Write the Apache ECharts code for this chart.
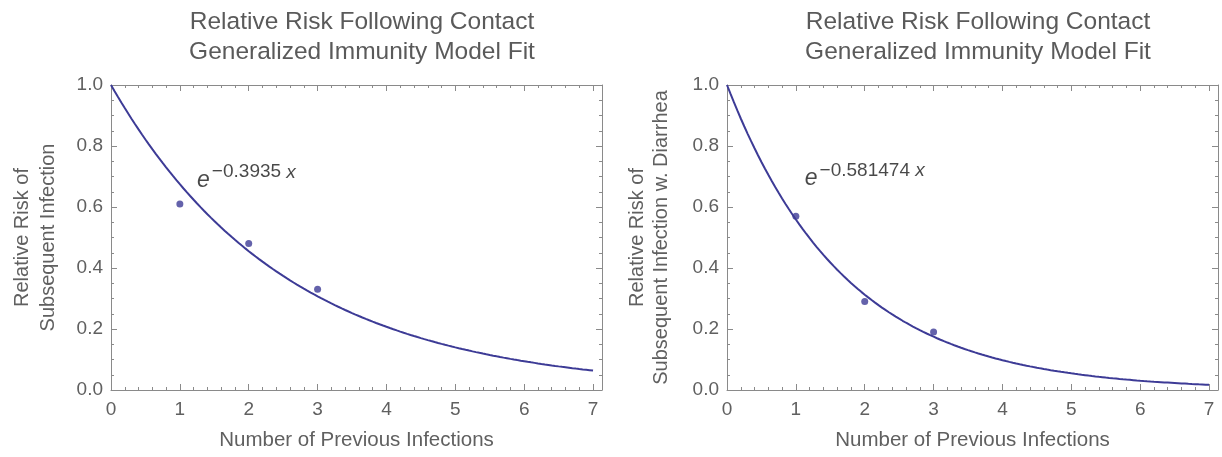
<!DOCTYPE html>
<html>
<head>
<meta charset="utf-8">
<title>Relative Risk Following Contact</title>
<script src="https://cdn.jsdelivr.net/npm/echarts@6/dist/echarts.min.js"></script>
<style>
  html, body { margin: 0; padding: 0; background: #ffffff; }
  #chart { width: 1222px; height: 457px; }
</style>
</head>
<body>
<div id="chart"></div>
<script>
// ---- data ----
const titleLines = ['Relative Risk Following Contact', 'Generalized Immunity Model Fit'];
const xAxisTitle = 'Number of Previous Infections';
const yAxisTitles = [
  'Relative Risk of\nSubsequent Infection',
  'Relative Risk of\nSubsequent Infection w. Diarrhea'
];
const previousInfections = [1, 2, 3];
const riskAnyInfection = [0.61, 0.48, 0.33];
const riskWithDiarrhea = [0.57, 0.29, 0.19];
// fitted decay rates of the model e^(-k x)
const fitRates = [0.3935, 0.581474];
const fitLabels = ['\u22120.3935 ', '\u22120.581474 '];
const xTickValues = [0, 1, 2, 3, 4, 5, 6, 7];
const yTickValues = [0, 0.2, 0.4, 0.6, 0.8, 1.0];
// anchor of the formula label, in data units
const fitLabelAnchors = [[1.25, 0.65], [1.13, 0.656]];

// ---- layout / style ----
const FONT = '"Liberation Sans", Arial, sans-serif';
const TEXT = '#606060';
const FRAME = '#8a8a8a';
const BLUE = '#3d3b96';
const X_MIN = 0, X_MAX = 7.13, X_CURVE_END = 7;
const grids = [
  { left: 111, top: 85, width: 491, height: 305 },
  { left: 727, top: 85, width: 491, height: 305 }
];
const titleCenters = [357, 973];
const yNameGaps = [50, 54];
const yNameLineHeights = [26, 24];

// minor x ticks every 0.2 between the integer ticks
const xMinorValues = [];
for (let i = 0; i < xTickValues.length - 1; i++) {
  for (let j = 1; j < 5; j++) xMinorValues.push(+(xTickValues[i] + j * 0.2).toFixed(2));
}

function fitCurve(k) {
  const pts = [];
  for (let i = 0; i <= 140; i++) {
    const x = i * X_CURVE_END / 140;
    pts.push([x, Math.exp(-k * x)]);
  }
  return pts;
}

const xAxes = [], yAxes = [], series = [], titles = [];

grids.forEach((g, gi) => {
  titles.push({
    text: titleLines.join('\n'),
    left: titleCenters[gi],
    top: 2,
    textAlign: 'center',
    textStyle: { fontFamily: FONT, fontSize: 24.5, fontWeight: 'normal', color: '#5a5a5a', lineHeight: 30 }
  });

  const base = {
    gridIndex: gi, type: 'value', min: X_MIN, max: X_MAX,
    splitLine: { show: false }
  };
  const mainX = xAxes.length;
  // bottom: line, labels, major ticks
  xAxes.push(Object.assign({}, base, {
    position: 'bottom',
    name: xAxisTitle, nameLocation: 'middle', nameGap: 40,
    nameTextStyle: { fontFamily: FONT, fontSize: 20.5, color: TEXT },
    axisLine: { show: true, onZero: false, lineStyle: { color: FRAME, width: 1 } },
    axisTick: { show: true, inside: true, length: 6, customValues: xTickValues, lineStyle: { color: FRAME } },
    axisLabel: { show: true, customValues: xTickValues, margin: 10, fontFamily: FONT, fontSize: 19, color: TEXT }
  }));
  // bottom: minor ticks
  xAxes.push(Object.assign({}, base, {
    position: 'bottom',
    axisLine: { show: false, onZero: false },
    axisTick: { show: true, inside: true, length: 3, customValues: xMinorValues, lineStyle: { color: FRAME } },
    axisLabel: { show: false }
  }));
  // top frame: major + minor ticks
  xAxes.push(Object.assign({}, base, {
    position: 'top',
    axisLine: { show: true, onZero: false, lineStyle: { color: FRAME, width: 1 } },
    axisTick: { show: true, inside: true, length: 6, customValues: xTickValues, lineStyle: { color: FRAME } },
    axisLabel: { show: false }
  }));
  xAxes.push(Object.assign({}, base, {
    position: 'top',
    axisLine: { show: false, onZero: false },
    axisTick: { show: true, inside: true, length: 3, customValues: xMinorValues, lineStyle: { color: FRAME } },
    axisLabel: { show: false }
  }));

  const ybase = {
    gridIndex: gi, type: 'value', min: 0, max: 1, interval: 0.2,
    splitLine: { show: false },
    axisLine: { show: true, onZero: false, lineStyle: { color: FRAME, width: 1 } },
    axisTick: { show: true, inside: true, length: 6, lineStyle: { color: FRAME } },
    minorTick: { show: true, splitNumber: 4, length: 3, lineStyle: { color: FRAME } },
    minorSplitLine: { show: false }
  };
  const mainY = yAxes.length;
  yAxes.push(Object.assign({}, ybase, {
    position: 'left',
    name: yAxisTitles[gi], nameLocation: 'middle', nameGap: yNameGaps[gi],
    nameTextStyle: { fontFamily: FONT, fontSize: 20, color: TEXT, lineHeight: yNameLineHeights[gi] },
    axisLabel: { show: true, margin: 8, fontFamily: FONT, fontSize: 19, color: TEXT,
                 formatter: v => v.toFixed(1) }
  }));
  yAxes.push(Object.assign({}, ybase, {
    position: 'right',
    axisLabel: { show: false }
  }));

  const points = gi === 0 ? riskAnyInfection : riskWithDiarrhea;

  series.push({
    type: 'line', xAxisIndex: mainX, yAxisIndex: mainY,
    data: fitCurve(fitRates[gi]), showSymbol: false, smooth: false, silent: true,
    lineStyle: { color: BLUE, width: 2 }, z: 2
  });
  series.push({
    type: 'scatter', xAxisIndex: mainX, yAxisIndex: mainY,
    data: previousInfections.map((x, i) => [x, points[i]]),
    symbol: 'circle', symbolSize: 7, itemStyle: { color: BLUE }, z: 3
  });
  series.push({
    type: 'scatter', xAxisIndex: mainX, yAxisIndex: mainY,
    data: [fitLabelAnchors[gi]], symbolSize: 0, silent: true, z: 4,
    label: {
      show: true, position: [0, 0], align: 'left', verticalAlign: 'bottom',
      formatter: '{e|e}{s|' + fitLabels[gi] + '}{x|x}',
      rich: {
        e: { fontFamily: FONT, fontSize: 23, fontStyle: 'italic', color: '#1a1a1a', verticalAlign: 'bottom', lineHeight: 24 },
        s: { fontFamily: FONT, fontSize: 19, color: '#1a1a1a', verticalAlign: 'bottom', lineHeight: 20, padding: [0, 0, 10, 2] },
        x: { fontFamily: FONT, fontSize: 19, fontStyle: 'italic', color: '#1a1a1a', verticalAlign: 'bottom', lineHeight: 20, padding: [0, 0, 10, 0] }
      }
    }
  });
});

const chart = echarts.init(document.getElementById('chart'), null, { renderer: 'canvas' });
chart.setOption({
  animation: false,
  backgroundColor: '#ffffff',
  title: titles,
  grid: grids,
  xAxis: xAxes,
  yAxis: yAxes,
  series: series
});
</script>
</body>
</html>
